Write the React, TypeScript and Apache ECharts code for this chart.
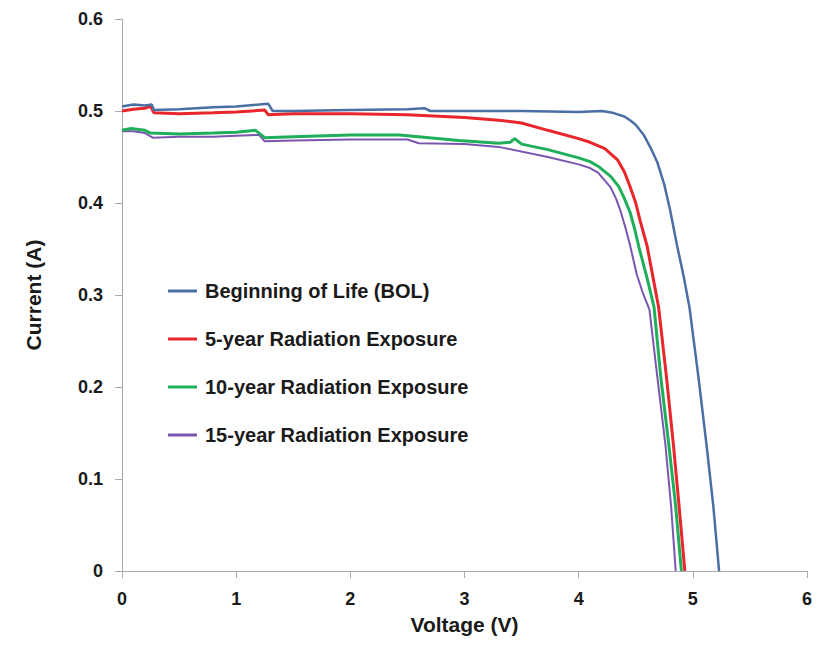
import React, { useEffect, useRef } from "react";
import * as echarts from "echarts";

const seriesNames = [
  "Beginning of Life (BOL)",
  "5-year Radiation Exposure",
  "10-year Radiation Exposure",
  "15-year Radiation Exposure",
];

const bolV = [0, 0.1, 0.2, 0.26, 0.28, 0.5, 0.8, 1.0, 1.2, 1.28, 1.32, 1.5, 2.0, 2.5, 2.65, 2.7, 3.0, 3.5, 4.0, 4.2, 4.3, 4.4, 4.45, 4.5, 4.57, 4.63, 4.69, 4.75, 4.8, 4.86, 4.92, 4.97, 5.05, 5.12, 5.18, 5.23];
const bolI = [0.505, 0.507, 0.506, 0.507, 0.501, 0.502, 0.504, 0.505, 0.507, 0.508, 0.5, 0.5, 0.501, 0.502, 0.503, 0.5, 0.5, 0.5, 0.499, 0.5, 0.498, 0.494, 0.49, 0.485, 0.474, 0.46, 0.444, 0.42, 0.393, 0.355, 0.32, 0.287, 0.21, 0.137, 0.07, 0];

const y5V = [0, 0.1, 0.2, 0.25, 0.28, 0.5, 0.8, 1.0, 1.25, 1.28, 1.5, 2.0, 2.5, 3.0, 3.3, 3.5, 3.73, 4.0, 4.1, 4.23, 4.34, 4.4, 4.45, 4.5, 4.54, 4.6, 4.65, 4.7, 4.77, 4.83, 4.88, 4.93];
const y5I = [0.5, 0.502, 0.503, 0.505, 0.498, 0.497, 0.498, 0.499, 0.501, 0.496, 0.497, 0.497, 0.496, 0.493, 0.49, 0.487, 0.479, 0.47, 0.466, 0.459, 0.447, 0.434, 0.418, 0.4, 0.38, 0.353, 0.32, 0.287, 0.21, 0.137, 0.07, 0];

const y10V = [0, 0.08, 0.2, 0.25, 0.5, 0.8, 1.0, 1.17, 1.25, 1.5, 2.0, 2.43, 2.95, 3.3, 3.4, 3.44, 3.5, 3.73, 4.0, 4.1, 4.17, 4.28, 4.35, 4.4, 4.45, 4.49, 4.53, 4.6, 4.66, 4.72, 4.79, 4.85, 4.9];
const y10I = [0.479, 0.481, 0.479, 0.476, 0.475, 0.476, 0.477, 0.479, 0.471, 0.472, 0.474, 0.474, 0.468, 0.465, 0.466, 0.47, 0.464, 0.458, 0.449, 0.445, 0.44, 0.429, 0.418, 0.405, 0.39, 0.372, 0.351, 0.318, 0.287, 0.21, 0.137, 0.07, 0];

const y15V = [0, 0.1, 0.2, 0.27, 0.5, 0.8, 1.0, 1.2, 1.25, 1.5, 2.0, 2.5, 2.6, 3.0, 3.3, 3.73, 4.0, 4.1, 4.17, 4.28, 4.33, 4.37, 4.41, 4.45, 4.51, 4.56, 4.62, 4.69, 4.76, 4.81, 4.85];
const y15I = [0.478, 0.478, 0.476, 0.471, 0.472, 0.472, 0.473, 0.474, 0.467, 0.468, 0.469, 0.469, 0.465, 0.464, 0.461, 0.45, 0.442, 0.438, 0.433, 0.417, 0.404, 0.39, 0.373, 0.354, 0.322, 0.303, 0.284, 0.21, 0.137, 0.07, 0];

const colors = ["#4a6fa5", "#e8262b", "#1fae5a", "#7c55b0"];
const widths = [2.5, 3, 3, 2];

const xTicks = [0, 1, 2, 3, 4, 5, 6];
const yTicks = [0, 0.1, 0.2, 0.3, 0.4, 0.5, 0.6];

const FONT = "Liberation Sans, Arial, sans-serif";

function pairs(v: number[], i: number[]) {
  return v.map((x, k) => [x, i[k]]);
}

export default function App() {
  const ref = useRef<HTMLDivElement>(null);
  useEffect(() => {
    if (!ref.current) return;
    const chart = echarts.init(ref.current, undefined, { renderer: "svg" });
    const datasets = [pairs(bolV, bolI), pairs(y5V, y5I), pairs(y10V, y10I), pairs(y15V, y15I)];
    chart.setOption({
      animation: false,
      backgroundColor: "#ffffff",
      grid: { left: 114, right: 5, top: 11, bottom: 62 },
      legend: {
        orient: "vertical",
        left: 155,
        top: 266,
        itemWidth: 29,
        itemHeight: 3,
        itemGap: 24,
        icon: "rect",
        data: seriesNames,
        textStyle: {
          fontFamily: FONT,
          fontWeight: "bold",
          fontSize: 20,
          color: "#1a1a1a",
          lineHeight: 24,
          padding: [0, 0, 0, 3],
        },
      },
      xAxis: {
        type: "value",
        min: xTicks[0],
        max: xTicks[xTicks.length - 1],
        interval: 1,
        name: "Voltage (V)",
        nameLocation: "middle",
        nameGap: 43,
        nameTextStyle: { fontFamily: FONT, fontWeight: "bold", fontSize: 21, color: "#1a1a1a" },
        axisLine: { show: true, lineStyle: { color: "#aaaaaa", width: 1 } },
        axisTick: { show: true, length: 7, lineStyle: { color: "#aaaaaa" } },
        splitLine: { show: false },
        axisLabel: { fontFamily: FONT, fontWeight: "bold", fontSize: 18, color: "#1a1a1a", margin: 19 },
      },
      yAxis: {
        type: "value",
        min: yTicks[0],
        max: yTicks[yTicks.length - 1],
        interval: 0.1,
        name: "Current (A)",
        nameLocation: "middle",
        nameGap: 78,
        nameRotate: 90,
        nameTextStyle: { fontFamily: FONT, fontWeight: "bold", fontSize: 21, color: "#1a1a1a" },
        axisLine: { show: true, lineStyle: { color: "#aaaaaa", width: 1 } },
        axisTick: { show: true, length: 7, lineStyle: { color: "#aaaaaa" } },
        splitLine: { show: false },
        axisLabel: { fontFamily: FONT, fontWeight: "bold", fontSize: 18, color: "#1a1a1a", margin: 19 },
      },
      series: seriesNames.map((name, k) => ({
        name,
        type: "line",
        data: datasets[k],
        showSymbol: false,
        symbol: "none",
        color: colors[k],
        lineStyle: { color: colors[k], width: widths[k] },
        z: 10 - k,
      })),
    });
    return () => chart.dispose();
  }, []);
  return <div ref={ref} style={{ width: 807, height: 632 }} />;
}
